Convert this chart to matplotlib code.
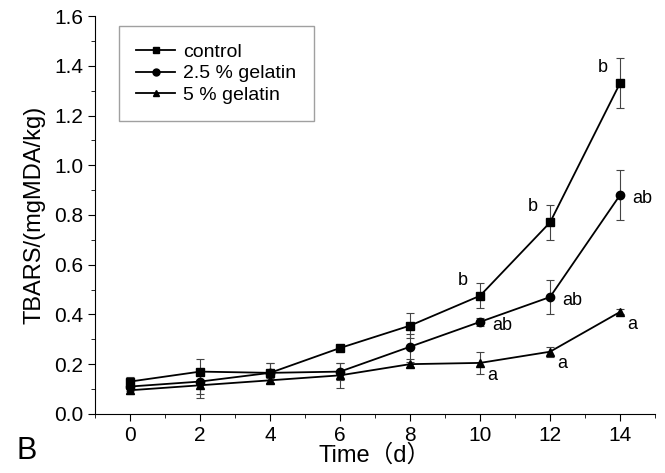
import matplotlib.pyplot as plt
from matplotlib.ticker import MultipleLocator
from matplotlib.lines import Line2D

days = [0, 2, 4, 6, 8, 10, 12, 14]

control = [0.13, 0.17, 0.165, 0.265, 0.355, 0.475, 0.77, 1.33]
control_err = [0.02, 0.05, 0.04, 0.01, 0.05, 0.05, 0.07, 0.10]

gel25 = [0.11, 0.13, 0.165, 0.17, 0.27, 0.37, 0.47, 0.88]
gel25_err = [0.02, 0.05, 0.04, 0.035, 0.05, 0.015, 0.07, 0.10]

gel5 = [0.095, 0.115, 0.135, 0.155, 0.20, 0.205, 0.25, 0.41]
gel5_err = [0.015, 0.05, 0.01, 0.05, 0.01, 0.045, 0.02, 0.01]

# significance letters (day, value, text)
letters_control = [(10, 0.475, 'b'), (12, 0.77, 'b'), (14, 1.33, 'b')]
letters_25 = [(10, 0.37, 'ab'), (12, 0.47, 'ab'), (14, 0.88, 'ab')]
letters_5 = [(10, 0.205, 'a'), (12, 0.25, 'a'), (14, 0.41, 'a')]

plt.rcParams['font.family'] = ['Liberation Sans', 'Noto Sans CJK SC', 'DejaVu Sans']

fig = plt.figure(figsize=(6.65, 4.73), dpi=100)
ax = fig.add_axes([0.143, 0.125, 0.842, 0.841])

kw = dict(color='black', lw=1.3, ms=6, capsize=3, elinewidth=0.8, ecolor='#444444', capthick=0.8)
ax.errorbar(days, control, yerr=control_err, marker='s', **kw)
ax.errorbar(days, gel25, yerr=gel25_err, marker='o', **kw)
ax.errorbar(days, gel5, yerr=gel5_err, marker='^', **kw)

for x, y, t in letters_control:
    ax.annotate(t, (x, y), xytext=(-9, 8), textcoords='offset points', ha='right', fontsize=13)
for x, y, t in letters_25:
    ax.annotate(t, (x, y), xytext=(9, -6), textcoords='offset points', ha='left', fontsize=13)
for x, y, t in letters_5:
    ax.annotate(t, (x, y), xytext=(5, -12), textcoords='offset points', ha='left', fontsize=13)

ax.set_xlim(-1, 15)
ax.set_ylim(0, 1.6)
ax.xaxis.set_major_locator(MultipleLocator(2))
ax.xaxis.set_minor_locator(MultipleLocator(1))
ax.yaxis.set_major_locator(MultipleLocator(0.2))
ax.yaxis.set_minor_locator(MultipleLocator(0.1))
ax.yaxis.set_major_formatter(plt.FormatStrFormatter('%.1f'))
ax.spines['top'].set_visible(False)
ax.spines['right'].set_visible(False)
ax.tick_params(which='major', direction='out', length=5, labelsize=15)
ax.tick_params(which='minor', direction='out', length=3)

ax.set_xlabel('Time\uff08d\uff09', fontsize=17, labelpad=0)
ax.set_ylabel('TBARS/(mgMDA/kg)', fontsize=17, labelpad=6)

handles = [Line2D([], [], color='black', lw=1.3, marker=m, ms=5) for m in ['s', 'o', '^']]
leg = ax.legend(handles, ['control', '2.5 % gelatin', '5 % gelatin'],
                loc='upper left', bbox_to_anchor=(0.025, 1.0), fontsize=14, fancybox=False,
                edgecolor='#888888', handlelength=2.0, handletextpad=0.4,
                borderpad=0.9, labelspacing=0.2)
leg.get_frame().set_linewidth(1.0)

fig.text(0.025, 0.03, 'B', fontsize=22)

fig.savefig('out.png', dpi=100)
